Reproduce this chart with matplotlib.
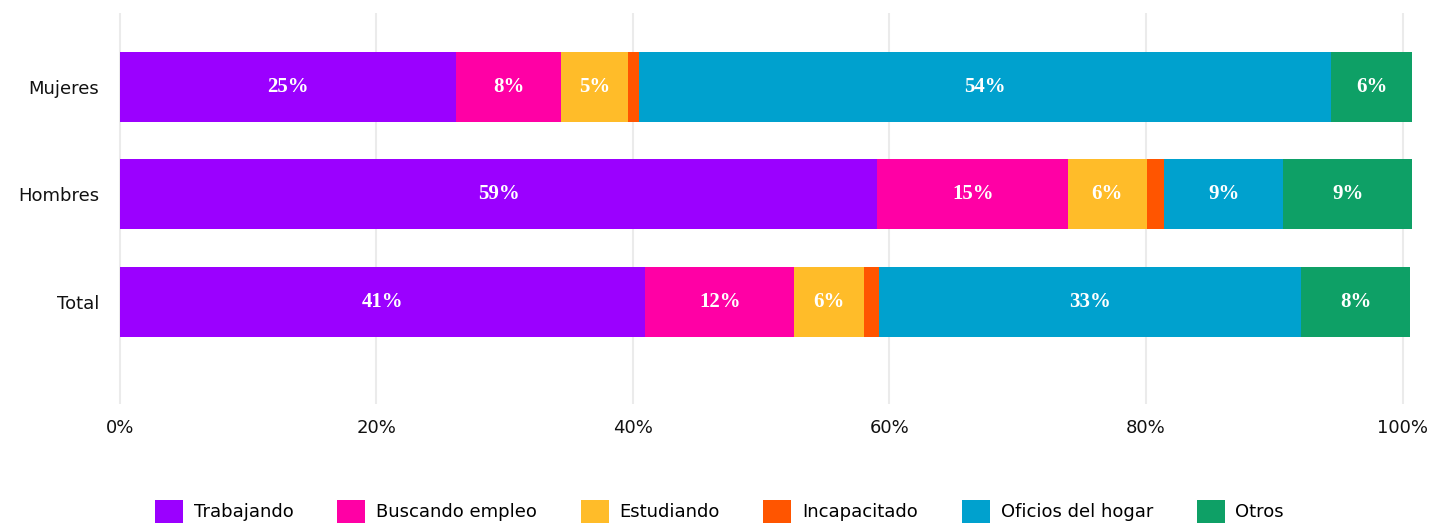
import matplotlib.pyplot as plt
from matplotlib.patches import Patch

# grupos de abajo hacia arriba (Total abajo, Mujeres arriba)
grupos = ['Total', 'Hombres', 'Mujeres']
categorias = ['Trabajando', 'Buscando empleo', 'Estudiando',
              'Incapacitado', 'Oficios del hogar', 'Otros']
colores = ['#9b00ff', '#ff00a5', '#ffbc29', '#ff5500', '#00a1ce', '#0ea066']

# porcentajes (Total, Hombres, Mujeres)
trabajando = [40.98, 59.06, 26.19]
buscando = [11.58, 14.88, 8.24]
estudiando = [5.42, 6.09, 5.22]
incapacitado = [1.22, 1.40, 0.80]
oficios = [32.90, 9.27, 53.98]
otros = [8.49, 10.05, 6.31]

# etiquetas tal como aparecen en las barras
etiquetas = [
    ['41%', '12%', '6%', '', '33%', '8%'],
    ['59%', '15%', '6%', '', '9%', '9%'],
    ['25%', '8%', '5%', '', '54%', '6%'],
]

series = [trabajando, buscando, estudiando, incapacitado, oficios, otros]

fig = plt.figure(figsize=(14.43, 5.25), dpi=100)
ax = fig.add_axes([0.0740, 0.2305, 0.9070, 0.7448])

pos = list(range(len(grupos)))
izq = [0.0] * len(grupos)
for k, (serie, color) in enumerate(zip(series, colores)):
    ax.barh(pos, serie, left=izq, height=0.651, color=color, zorder=2)
    for i, v in enumerate(serie):
        txt = etiquetas[i][k]
        if txt:
            ax.text(izq[i] + v / 2, pos[i], txt, ha='center', va='center',
                    color='white', fontsize=15, fontweight='bold',
                    family='Liberation Serif', zorder=3)
    izq = [a + b for a, b in zip(izq, serie)]

ax.set_xlim(-1, 101)
ax.set_ylim(-0.949, 2.688)

ticks = list(range(0, 101, 20))
ax.set_xticks(ticks, [f'{t}%' for t in ticks])
ax.set_yticks(pos, grupos)
ax.tick_params(axis='both', length=0, labelsize=13, colors='#111111')
ax.tick_params(axis='x', pad=11)
ax.tick_params(axis='y', pad=5.5)

# lineas verticales de fondo
ax.grid(True, axis='x', color='#ebebeb', linewidth=1.5, zorder=0)
ax.set_axisbelow(True)
for s in ax.spines.values():
    s.set_visible(False)

handles = [Patch(facecolor=c, label=l) for c, l in zip(colores, categorias)]
fig.legend(handles=handles, ncol=6, loc='center',
           bbox_to_anchor=(0.4986, 1 - 511.5 / 525), frameon=False,
           fontsize=13, handlelength=1.55, handleheight=1.5,
           handletextpad=0.6, columnspacing=2.42, borderpad=0)

fig.savefig('out.png', dpi=100)
